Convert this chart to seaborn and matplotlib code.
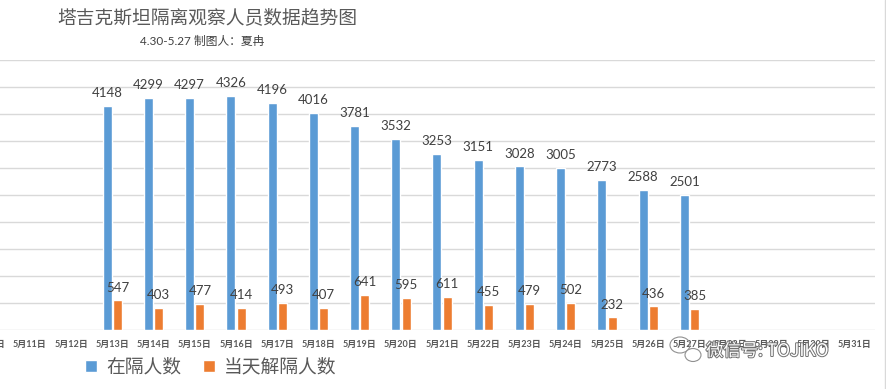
import pandas as pd
import matplotlib
matplotlib.use('Agg')
import matplotlib.pyplot as plt
import matplotlib.patheffects as pe
from matplotlib.patches import Ellipse, Patch
from matplotlib.lines import Line2D
import seaborn as sns

dates = ['5月10日', '5月11日', '5月12日', '5月13日', '5月14日', '5月15日', '5月16日',
         '5月17日', '5月18日', '5月19日', '5月20日', '5月21日', '5月22日', '5月23日',
         '5月24日', '5月25日', '5月26日', '5月27日', '5月28日', '5月29日', '5月30日',
         '5月31日']
isolated_dates = dates[3:18]
isolated = [4148, 4299, 4297, 4326, 4196, 4016, 3781, 3532, 3253, 3151, 3028, 3005,
            2773, 2588, 2501]
released = [547, 403, 477, 414, 493, 407, 641, 595, 611, 455, 479, 502, 232, 436, 385]
series = ['在隔人数', '当天解隔人数']
colors = ['#5B9BD5', '#ED7D31']

df = pd.concat([
    pd.DataFrame({'date': isolated_dates, 'value': isolated, 'series': series[0]}),
    pd.DataFrame({'date': isolated_dates, 'value': released, 'series': series[1]}),
])

sns.set_style('white')
plt.rcParams['font.family'] = ['Lato', 'Noto Sans CJK SC', 'DejaVu Sans']

W, H = 887, 389
fig = plt.figure(figsize=(W / 100, H / 100), dpi=100)
ax = fig.add_axes([-32 / W, (H - 330) / H, 907 / W, 270 / H])

sns.barplot(data=df, x='date', y='value', hue='series', order=dates,
            hue_order=series, palette=colors, width=0.5, gap=0.12,
            saturation=1, legend=False, ax=ax)

for c in ax.containers:
    ax.bar_label(c, padding=5, fontsize=9.5, color='#404040')

ax.set_xlim(-0.5, len(dates) - 0.5)
ax.set_ylim(0, 5000)
ax.set_yticks(range(0, 5001, 500))
ax.set_yticklabels([])
ax.grid(axis='y', color='#D9D9D9', linewidth=1)
ax.set_axisbelow(True)
for s in ax.spines.values():
    s.set_visible(False)
ax.set_xlabel('')
ax.set_ylabel('')
ax.tick_params(axis='x', length=0, pad=7, labelsize=6.5, labelcolor='#595959')
ax.tick_params(axis='y', length=0)
for t in ax.get_xticklabels():
    t.set_fontweight('bold')

fig.text(57 / W, 1 - 18 / H, '塔吉克斯坦隔离观察人员数据趋势图', fontsize=13.5,
         color='#595959', ha='left', va='center', family=['Noto Sans CJK SC'])
fig.text(140 / W, 1 - 41 / H, '4.30-5.27 制图人：夏冉', fontsize=8.5,
         color='#404040', ha='left', va='center')

handles = [Patch(facecolor=colors[0]), Patch(facecolor=colors[1])]
fig.legend(handles, series, loc='center', bbox_to_anchor=(211 / W, 1 - 367 / H),
           ncol=2, frameon=False, labelcolor='#595959',
           handlelength=0.6, handleheight=0.6, handletextpad=0.5, columnspacing=1.2,
           prop={'family': ['Noto Sans CJK SC'], 'size': 13.5})

# watermark
fig.text(706 / W, 1 - 351 / H, '微信号: TOJIKO', fontsize=12.5, color='white',
         ha='left', va='center', family=['Noto Sans CJK SC'],
         path_effects=[pe.withStroke(linewidth=1.4, foreground='#707070')])
fig.add_artist(Ellipse((680 / W, 1 - 345 / H), 20 / W, 16 / H, fill=False,
                       edgecolor='#909090', linewidth=0.8, transform=fig.transFigure))
fig.add_artist(Ellipse((693 / W, 1 - 355 / H), 16 / W, 13 / H, facecolor='white',
                       edgecolor='#909090', linewidth=0.8, transform=fig.transFigure))

fig.add_artist(Line2D([885.5 / W, 885.5 / W], [0, 1], color='#D9D9D9', linewidth=1))

fig.savefig('out.png', dpi=100)
